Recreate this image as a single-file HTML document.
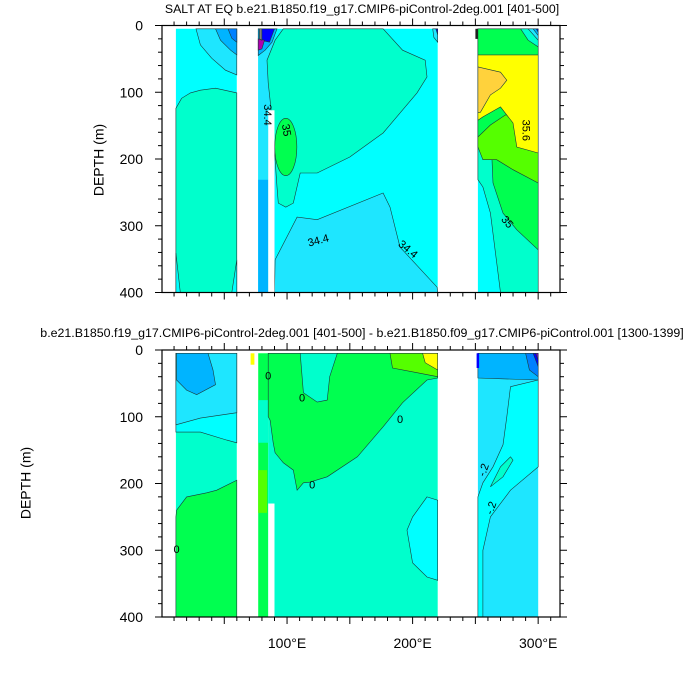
<!DOCTYPE html>
<html><head><meta charset="utf-8">
<style>
html,body{margin:0;padding:0;background:#fff;}
svg{display:block;font-family:"Liberation Sans",Arial,sans-serif;}
</style></head>
<body>
<svg id="chart" width="700" height="700" viewBox="0 0 700 700" xmlns="http://www.w3.org/2000/svg">
<g id="layers"></g>
</svg>
<script>
// ---- axis data ----
const lonMajorTicks=[0,50,100,150,200,250,300];
const lonLabelTicks=[100,200,300];
const lonLabels=["100°E","200°E","300°E"];
const depthTicks=[0,100,200,300,400];
const depthLabels=["0","100","200","300","400"];
const topTitle="SALT AT EQ b.e21.B1850.f19_g17.CMIP6-piControl-2deg.001 [401-500]";
const botTitle="b.e21.B1850.f19_g17.CMIP6-piControl-2deg.001 [401-500] - b.e21.B1850.f09_g17.CMIP6-piControl.001 [1300-1399]";

// ---- contour regions: [fill, [[lon,depth],...]] ----
const topRegions=[
 ["#00FFFF",[[11.5,5],[60,5],[60,400],[11.5,400]]],
 ["#00FFCC",[[11.5,124],[16,109],[23,101],[31,97],[43,94],[60,101],[60,400],[11.5,400]]],
 ["#00FFFF",[[11.5,341],[15,400],[11.5,400]]],
 ["#00FFFF",[[56,400],[60,351],[60,400]]],
 ["#1EE6FF",[[27.5,5],[31,29],[40,49],[51,67],[60,74],[60,5]]],
 ["#00B4FF",[[43,5],[47,22],[55,37],[60,44],[60,5]]],
 ["#0080FF",[[53,5],[56,19],[60,25],[60,5]]],
 ["#00FFFF",[[77,5],[220,5],[220,400],[77,400]]],
 ["#1EE6FF",[[77,5],[90.5,5],[90.5,400],[77,400]]],
 ["#00B4FF",[[77,231],[85,231],[85,400],[77,400]]],
 ["#00FFCC",[[97,5],[176.5,5],[192,37],[210,52],[211.5,77],[203.5,101],[176.5,161],[150,197],[124,221],[110.5,221],[105,266],[99,272],[93,266],[92,242],[89,161],[86.5,112],[85,86],[84,52],[90.5,22]]],
 ["#1EE6FF",[[90,400],[90.5,351],[108,287],[124,291],[176.5,251],[182,272],[190,332],[219.5,392],[220,400]]],
 ["#00B4FF",[[77,5],[92,5],[88,25],[82.5,37],[77,45]]],
 ["#0000FF",[[79,5],[90,5],[86,25],[79,22]]],
 ["#B000B0",[[77,20],[82,22],[80,35],[77,37]]],
 ["#808080",[[78,5],[80,5],[80,22],[78,20]]],
 ["#1EE6FF",[[216,5],[220,5],[220,25],[217,18]]],
 ["#0000FF",[[218.5,5],[220,5],[220,14]]],
 ["#00FFFF",[[252,5],[300,5],[300,400],[252,400]]],
 ["#00FFCC",[[252,231],[256,242],[262,281],[270,400],[300,400],[300,5],[252,5]]],
 ["#00FF50",[[252,182],[259,171],[263,191],[264,236],[272,281],[283,306],[300,336],[300,5],[252,5]]],
 ["#55FF00",[[252,167],[262,149],[274,134],[286,134],[294,149],[300,157],[300,236],[280,216],[267,201],[256,201],[252,182]]],
 ["#FFFF00",[[252,44],[300,44],[300,191],[283,182],[280,146],[270,122],[256,137],[252,142]]],
 ["#FFD23C",[[252,62],[270,70],[275,82],[270,94],[262,104],[254,130],[252,130]]],
 ["#00FFCC",[[286,5],[300,5],[300,32],[292,22]]],
 ["#1EE6FF",[[292,5],[300,5],[300,22]]],
 ["#00B4FF",[[296,5],[300,5],[300,15]]],
 ["#0000FF",[[298.5,5],[300,5],[300,10]]],
 ["#202020",[[250,5],[252,5],[252,20],[250,20]]]
];
const topEllipses=[["#00FF50",99,182,8.8,43]];
const topWhite=[[85,127,90,400]];

const botRegions=[
 ["#00FFCC",[[11.5,5],[60,5],[60,400],[11.5,400]]],
 ["#00FFFF",[[11.5,5],[60,5],[60,139],[52,135],[31,123],[11.5,123]]],
 ["#1EE6FF",[[11.5,5],[60,5],[60,94],[31,102],[11.5,112]]],
 ["#00B4FF",[[12,5],[37,5],[41,30],[43,52],[28,67],[20,60],[12,45]]],
 ["#00FF50",[[11.5,400],[11.5,250],[12,240],[20,220],[36,214],[44,210],[60,195],[60,400]]],
 ["#00FF50",[[77,5],[85,5],[85,400],[77,400]]],
 ["#00FFCC",[[77,75],[85,75],[85,139],[77,139]]],
 ["#55FF00",[[77,180],[84,180],[84,244],[77,244]]],
 ["#FFFF00",[[71,5],[74,5],[74,22],[71,22]]],
 ["#00FFCC",[[85,5],[220,5],[220,400],[85,400]]],
 ["#00FF50",[[85,5],[220,5],[220,42],[211.5,45],[192,79],[176.5,115],[156,160],[132,190],[118,198],[113,199],[108,210],[105,180],[97,169],[90.5,154],[89,139],[86.5,105],[85,100]]],
 ["#00FFCC",[[110.5,5],[140,5],[134,40],[132,75],[124,78],[113,64]]],
 ["#55FF00",[[182,5],[220,5],[220,40],[203.5,34],[184,27]]],
 ["#FFFF00",[[208,5],[220,5],[220,30],[210,19]]],
 ["#00FFFF",[[211.5,220],[220,225],[220,345],[211.5,340],[200,319],[195.5,270],[200,250]]],
 ["#1EE6FF",[[252,5],[300,5],[300,400],[252,400]]],
 ["#00B4FF",[[252,5],[300,5],[300,45],[252,42]]],
 ["#00FFFF",[[278,55],[300,45],[300,175],[278,210],[262,250],[256,300],[256,400],[252,400],[252,220],[256,199],[264,175],[272,142],[275,100]]],
 ["#00FFCC",[[262,205],[270,175],[278,160],[280,165],[272,190]]],
 ["#0080FF",[[290,5],[300,5],[300,40],[293,30]]],
 ["#0000FF",[[296,5],[300,5],[300,25]]],
 ["#8000C0",[[298,5],[300,5],[300,15]]],
 ["#0000FF",[[251,5],[253,5],[253,27],[251,27]]]
];
const botWhite=[[85,230,90,400]];

const topLabels=[["34.4",84,134,90],["35",99,157,80],["34.4",125,323,-15],["34.4",196,336,40],["35.6",290,157,90],["35",275,295,50]];
const botLabels=[["0",12,300,0],["0",112,73,0],["0",190,105,0],["0",85,40,0],["0",120,203,0],["-.2",257,180,-70],["-.2",263,237,-70]];

// ---- axis functions ----
const LON0=0.4, LON1=317.4, XL=162, XR=560;
function xs(lon){return XL+(lon-LON0)*(XR-XL)/(LON1-LON0);}
function mkY(top,bot){return d=>top+d*(bot-top)/400;}
const panels=[
 {top:25.5,bot:292.5,regions:topRegions,ell:topEllipses,white:topWhite,labels:topLabels,title:topTitle,ty:13,fs:12.3,tx:362,labX:false,name:"salt-panel",ylab:[100,160]},
 {top:350,bot:617,regions:botRegions,ell:[],white:botWhite,labels:botLabels,title:botTitle,ty:337,fs:12.4,tx:362,labX:true,name:"difference-panel",ylab:[27,483]}
];
const NS="http://www.w3.org/2000/svg";
const root=document.getElementById('layers');
function el(tag,attrs,parent){const e=document.createElementNS(NS,tag);for(const k in attrs)e.setAttribute(k,attrs[k]);(parent||root).appendChild(e);return e;}

panels.forEach(p=>{
 const ys=mkY(p.top,p.bot);
 const g=el('g',{});
 
 
 p.regions.forEach((r,i)=>{
  const pts=r[1].map(q=>xs(q[0]).toFixed(1)+','+ys(q[1]).toFixed(1)).join(' ');
  const isRect=r[1].length===4&&r[1][0][1]===r[1][1][1]&&r[1][2][1]===r[1][3][1];
  const pg=el('polygon',{points:pts,fill:r[0],stroke:isRect?'none':'#1a3a3a','stroke-width':isRect?0:0.6},g);
  
  
 });
 p.ell.forEach(e=>{
  const cx=xs(e[1]),cy=ys(e[2]);
  const rx=xs(e[1]+e[3])-cx, ry=ys(e[2]+e[4])-cy;
  const en=el('ellipse',{cx:cx,cy:cy,rx:rx,ry:ry,fill:e[0],stroke:'#1a3a3a','stroke-width':0.6},g);
  
  
 });
 p.white.forEach(w=>{
  const wr=el('rect',{x:xs(w[0]),y:ys(w[1]),width:xs(w[2])-xs(w[0]),height:ys(w[3])-ys(w[1]),fill:'#fff'},g);
  
  
 });
 p.labels.forEach(l=>{
  const x=xs(l[1]),y=ys(l[2]);
  const t=el('text',{x:x,y:y,'font-size':11,'text-anchor':'middle','dominant-baseline':'middle',transform:`rotate(${l[3]} ${x} ${y})`,fill:'#000'},g);
  t.textContent=l[0];
  
  
 });
 const fr=el('rect',{x:XL,y:p.top,width:XR-XL,height:p.bot-p.top,fill:'none',stroke:'#000','stroke-width':1.2},g);
 
 
 for(let lon=10;lon<=310;lon+=10){
  const x=xs(lon); const major=lonMajorTicks.includes(lon); const L=major?7:4;
  el('line',{x1:x,x2:x,y1:p.top,y2:p.top-L,stroke:'#000','stroke-width':1},g);
  el('line',{x1:x,x2:x,y1:p.bot,y2:p.bot+L,stroke:'#000','stroke-width':1},g);
 }
 for(let d=0;d<=400;d+=20){
  const y=ys(d); const major=depthTicks.includes(d); const L=major?7:4;
  el('line',{x1:XL,x2:XL-L,y1:y,y2:y,stroke:'#000','stroke-width':1},g);
  el('line',{x1:XR,x2:XR+L,y1:y,y2:y,stroke:'#000','stroke-width':1},g);
 }
 depthTicks.forEach((d,i)=>{
  const t=el('text',{x:143,y:ys(d)+5,'font-size':14,'text-anchor':'end',fill:'#000'},g);
  t.textContent=depthLabels[i];
  
  
 });
 if(p.labX){
  lonLabelTicks.forEach((lon,i)=>{
   const t=el('text',{x:xs(lon),y:648,'font-size':14,'text-anchor':'middle',fill:'#000'},g);
   t.textContent=lonLabels[i];
   
   
  });
 }
 const tt=el('text',{x:p.tx,y:p.ty,'font-size':p.fs,'text-anchor':'middle',fill:'#000'},g);
 tt.textContent=p.title;
 
 
 const yl=el('text',{x:p.ylab[0],y:p.ylab[1],'font-size':14,'text-anchor':'middle','dominant-baseline':'middle',transform:`rotate(-90 ${p.ylab[0]} ${p.ylab[1]})`,fill:'#000'},g);
 yl.textContent="DEPTH (m)";
 
 
});
</script>
</body></html>
